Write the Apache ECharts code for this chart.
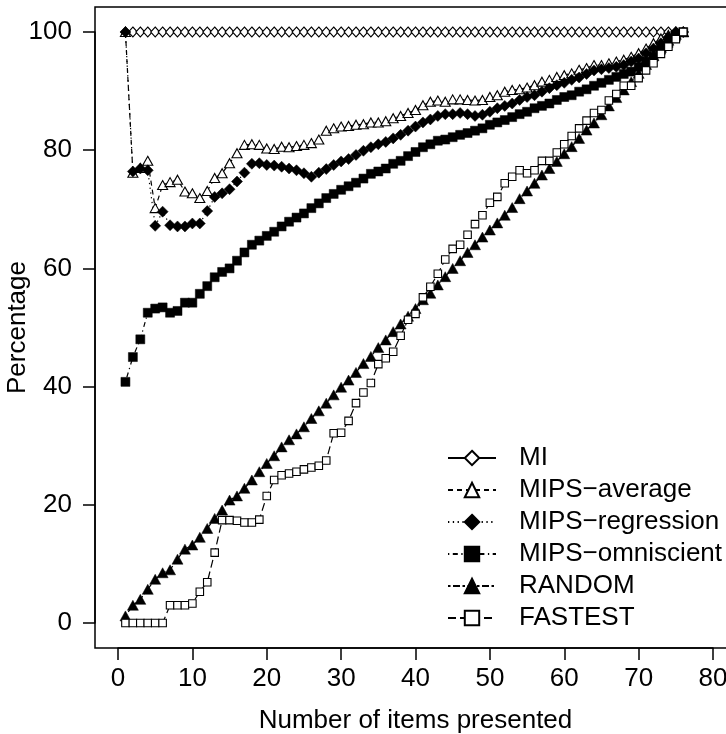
<!DOCTYPE html>
<html><head><meta charset="utf-8">
<script src="https://cdn.jsdelivr.net/npm/echarts@6/dist/echarts.min.js"></script>
<style>html,body{margin:0;padding:0;background:#fff}#c{width:726px;height:734px}</style>
</head><body><div id="c"></div><script>
const xs = [1,2,3,4,5,6,7,8,9,10,11,12,13,14,15,16,17,18,19,20,21,22,23,24,25,26,27,28,29,30,31,32,33,34,35,36,37,38,39,40,41,42,43,44,45,46,47,48,49,50,51,52,53,54,55,56,57,58,59,60,61,62,63,64,65,66,67,68,69,70,71,72,73,74,75,76];
const xTicks = [0,10,20,30,40,50,60,70,80];
const yTicks = [0,20,40,60,80,100];
const names = ['MI','MIPS\u2212average','MIPS\u2212regression','MIPS\u2212omniscient','RANDOM','FASTEST'];
const mi = [100,100,100,100,100,100,100,100,100,100,100,100,100,100,100,100,100,100,100,100,100,100,100,100,100,100,100,100,100,100,100,100,100,100,100,100,100,100,100,100,100,100,100,100,100,100,100,100,100,100,100,100,100,100,100,100,100,100,100,100,100,100,100,100,100,100,100,100,100,100,100,100,100,100,100,100];
const mipsAverage = [100,76.2,77.0,78.2,70.2,74.1,74.6,75.0,73.0,72.7,71.9,73.1,75.3,76.1,77.8,79.5,80.9,81.0,80.9,80.3,80.2,80.6,80.5,80.7,80.9,81.2,81.8,83.3,83.7,84.0,84.1,84.3,84.4,84.7,84.7,84.9,85.4,85.8,86.3,86.8,87.6,88.2,88.4,88.2,88.6,88.6,88.5,88.4,88.5,89.0,89.3,89.9,90.2,90.3,90.6,91.0,91.6,91.9,92.4,92.7,93.0,93.6,93.9,94.4,94.4,94.7,95.0,95.3,95.8,96.4,97.2,98.1,98.9,99.5,100,100];
const mipsRegression = [100,76.4,76.9,76.6,67.2,69.6,67.3,67.1,67.1,67.6,67.6,69.7,72.1,72.7,73.4,74.7,76.2,77.7,77.8,77.5,77.4,77.2,76.9,76.6,76.1,75.5,76.2,76.8,77.5,78.1,78.5,79.2,79.9,80.5,81.0,81.4,82.0,82.6,83.3,84.0,84.7,85.2,85.8,86.1,86.1,86.3,86.1,85.8,86.0,86.5,87.1,87.5,87.9,88.5,89.0,89.3,89.9,90.5,91.0,91.4,91.9,92.3,92.9,93.5,93.7,93.9,94.1,94.4,95.0,95.5,96.4,97.2,98.1,99.1,100,100];
const mipsOmniscient = [40.8,45.0,48.0,52.5,53.2,53.4,52.5,52.8,54.2,54.2,55.7,57.0,58.5,59.4,60.0,61.3,62.7,64.0,64.7,65.5,66.2,67.1,67.9,68.6,69.3,70.2,71.0,71.9,72.6,73.3,73.9,74.5,75.2,76.0,76.4,76.9,77.7,78.2,79.0,79.7,80.5,81.0,81.6,81.8,82.2,82.6,82.9,83.3,83.7,84.3,84.7,85.1,85.6,86.1,86.5,87.1,87.5,87.9,88.5,89.0,89.3,89.9,90.3,90.9,91.4,91.9,92.4,92.9,93.3,94.1,95.0,95.8,97.0,98.1,99.2,100];
const random = [1.2,3.0,4.0,5.7,7.4,8.5,9.0,10.8,12.5,13.2,14.5,16.0,17.7,19.1,20.8,21.5,22.8,24.2,25.6,27.0,28.3,29.8,31.0,32.0,33.2,34.6,35.9,37.2,38.6,39.9,41.1,42.4,43.9,45.1,46.6,47.9,49.3,50.6,51.9,53.2,54.7,55.8,57.2,58.6,60.0,61.3,62.7,64.0,65.3,66.5,67.7,69.0,70.3,71.8,73.1,74.4,75.8,76.9,78.1,79.4,80.6,82.0,83.4,84.6,86.0,87.5,88.9,90.2,91.6,93.0,94.5,96.0,97.4,98.6,99.6,100];
const fastest = [0,0,0,0,0,0,3.0,3.0,3.0,3.3,5.3,6.9,11.9,17.4,17.4,17.3,17.0,17.0,17.5,21.5,24.2,25.0,25.3,25.6,26.0,26.3,26.6,27.5,32.1,32.2,34.2,37.2,39.0,40.6,43.8,44.8,45.9,48.6,51.3,52.3,55.1,56.9,59.1,61.5,63.3,64.0,65.7,67.5,69.0,71.1,72.1,74.4,75.5,76.6,76.1,76.6,78.2,78.2,79.6,81.0,82.4,83.7,85.0,86.3,86.8,88.4,89.5,90.9,90.9,92.2,93.5,94.7,96.3,97.5,98.8,100];

const FONT = '"Liberation Sans", Arial, Helvetica, sans-serif';
const chart = echarts.init(document.getElementById('c'), null, {renderer: 'canvas'});
function mk(name, values, symbol, size, filled, dash) {
  return {
    name: name, type: 'line', xAxisIndex: 0, yAxisIndex: 0,
    data: xs.map((x, i) => [x, values[i]]),
    symbol: symbol, symbolSize: size, showAllSymbol: true,
    lineStyle: {color: '#000', width: 1.2, type: dash},
    itemStyle: filled ? {color: '#000', borderColor: '#000', borderWidth: 0.5}
                      : {color: '#fff', borderColor: '#000', borderWidth: 1.1},
    emphasis: {disabled: true},
    clip: false, animation: false
  };
}
const axisLbl = {color: '#000', fontFamily: FONT, fontSize: 26};
chart.setOption({
  animation: false,
  grid: [
    {left: 118, top: 32, width: 595, height: 591, show: false, containLabel: false, outerBoundsMode: 'none'},
    {left: 95, top: 7, width: 642, height: 641, show: true, borderColor: '#000', borderWidth: 1.5, backgroundColor: 'transparent', containLabel: false, outerBoundsMode: 'none'}
  ],
  xAxis: [
    {gridIndex: 0, type: 'value', min: xTicks[0], max: xTicks[xTicks.length-1], interval: 10, offset: 25,
     axisLine: {show: true, onZero: false, lineStyle: {color: '#000', width: 1.5}},
     axisTick: {show: true, length: 12, lineStyle: {color: '#000', width: 1.5}},
     axisLabel: Object.assign({margin: 18}, axisLbl),
     splitLine: {show: false},
     name: 'Number of items presented', nameLocation: 'middle', nameGap: 60, nameMoveOverlap: false,
     nameTextStyle: {color: '#000', fontFamily: FONT, fontSize: 26}},
    {gridIndex: 1, type: 'value', min: -3.2, max: 83.2, show: false}
  ],
  yAxis: [
    {gridIndex: 0, type: 'value', min: yTicks[0], max: yTicks[yTicks.length-1], interval: 20, offset: 23,
     axisLine: {show: true, onZero: false, lineStyle: {color: '#000', width: 1.5}},
     axisTick: {show: true, length: 12, lineStyle: {color: '#000', width: 1.5}},
     axisLabel: Object.assign({margin: 23}, axisLbl),
     splitLine: {show: false},
     name: 'Percentage', nameLocation: 'middle', nameGap: 64, nameMoveOverlap: false,
     nameTextStyle: {color: '#000', fontFamily: FONT, fontSize: 26}},
    {gridIndex: 1, type: 'value', min: -4.17, max: 104.17, show: false}
  ],
  legend: {
    left: 447, top: 445, orient: 'vertical', padding: 0,
    itemWidth: 48, itemHeight: 18, itemGap: 6, selectedMode: false,
    textStyle: {color: '#000', fontFamily: FONT, fontSize: 26, padding: [0, 0, 0, 18]},
    data: names
  },
  series: [
    mk(names[0], mi, 'diamond', [9, 10], false, 'solid'),
    mk(names[1], mipsAverage, 'triangle', [10, 9], false, [5, 4]),
    mk(names[2], mipsRegression, 'diamond', [11, 11], true, [1.3, 3.5]),
    mk(names[3], mipsOmniscient, 'rect', [9, 9], true, [1.3, 3.5, 5, 3.5]),
    mk(names[4], random, 'triangle', [11, 10], true, [2.5, 2.5, 7, 2.5]),
    mk(names[5], fastest, 'rect', [7.5, 7.5], false, [8, 4])
  ]
});
</script></body></html>
